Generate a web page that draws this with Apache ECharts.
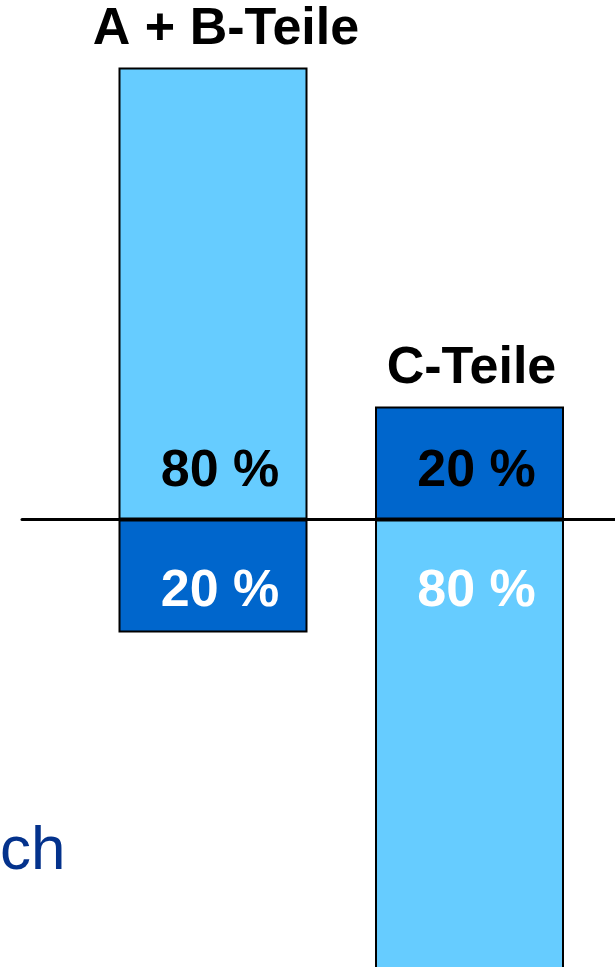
<!DOCTYPE html>
<html>
<head>
<meta charset="utf-8">
<script src="https://cdn.jsdelivr.net/npm/echarts@6/dist/echarts.min.js"></script>
<style>
html,body{margin:0;padding:0;background:#fff;}
#chart{width:615px;height:967px;}
</style>
</head>
<body>
<div id="chart"></div>
<script>
// Data
const categories = ['A + B-Teile', 'C-Teile'];
const lightValues = [80, -80];   // light blue share (above / below line)
const darkValues = [-20, 20];    // dark blue share
const lightLabelColors = ['#000000', '#ffffff'];
const darkLabelColors = ['#ffffff', '#000000'];
const yMin = -79.2, yMax = 90;
const footText = 'ch';

const LIGHT = '#66CCFF';
const DARK = '#0066CC';
const FONT = 'Liberation Sans, Arial, sans-serif';

function segLabel(v, color) {
  const pos = v >= 0 ? 'insideBottom' : 'insideTop';
  return {
    show: true,
    position: pos,
    distance: v >= 0 ? 22 : 46,
    offset: [7, 0],
    color: color,
    fontSize: 52,
    lineHeight: 52,
    fontWeight: 'bold',
    fontFamily: FONT,
    formatter: Math.abs(v) + ' %'
  };
}

const tops = categories.map((c, i) => Math.max(lightValues[i], 0) + Math.max(darkValues[i], 0));
const titleOffsets = [[13, 0], [2, 0]];

const chart = echarts.init(document.getElementById('chart'), null, {renderer: 'canvas'});
chart.setOption({
  animation: false,
  backgroundColor: '#ffffff',
  title: {
    text: footText,
    left: 0,
    top: 821,
    padding: 0,
    textStyle: {color: '#04328C', fontSize: 62, lineHeight: 62, fontWeight: 'normal', fontFamily: FONT}
  },
  grid: [
    {left: 84.75, width: 513, top: 11, height: 956, containLabel: false},
    {left: 22, right: 0, top: 11, height: 956, containLabel: false}
  ],
  xAxis: [
    {type: 'category', data: categories, gridIndex: 0, show: false},
    {type: 'value', gridIndex: 1, min: 0, max: 1, axisLine: {show: true, onZero: true, lineStyle: {color: '#000', width: 3}},
     axisTick: {show: false}, axisLabel: {show: false}, splitLine: {show: false}}
  ],
  yAxis: [
    {type: 'value', gridIndex: 0, min: yMin, max: yMax, show: false},
    {type: 'value', gridIndex: 1, min: yMin, max: yMax, show: false}
  ],
  series: [
    {
      name: 'names', type: 'bar', xAxisIndex: 0, yAxisIndex: 0,
      barWidth: 189, barGap: '-100%', silent: true, z: 1, clip: false,
      itemStyle: {color: 'rgba(0,0,0,0)', borderWidth: 0},
      data: tops.map((v, i) => ({
        value: v,
        label: {show: true, position: 'top', distance: 12, offset: titleOffsets[i],
          formatter: categories[i], color: '#000', fontSize: 52, lineHeight: 52, fontWeight: 'bold', fontFamily: FONT}
      }))
    },
    {
      name: 'light', type: 'bar', stack: 'total', xAxisIndex: 0, yAxisIndex: 0,
      barWidth: 189, barGap: '-100%', z: 2, clip: false,
      itemStyle: {color: LIGHT, borderColor: '#000', borderWidth: 2},
      data: lightValues.map((v, i) => ({value: v, label: segLabel(v, lightLabelColors[i])}))
    },
    {
      name: 'dark', type: 'bar', stack: 'total', xAxisIndex: 0, yAxisIndex: 0,
      barWidth: 189, barGap: '-100%', z: 2, clip: false,
      itemStyle: {color: DARK, borderColor: '#000', borderWidth: 2},
      data: darkValues.map((v, i) => ({value: v, label: segLabel(v, darkLabelColors[i])}))
    }
  ]
});
</script>
</body>
</html>
